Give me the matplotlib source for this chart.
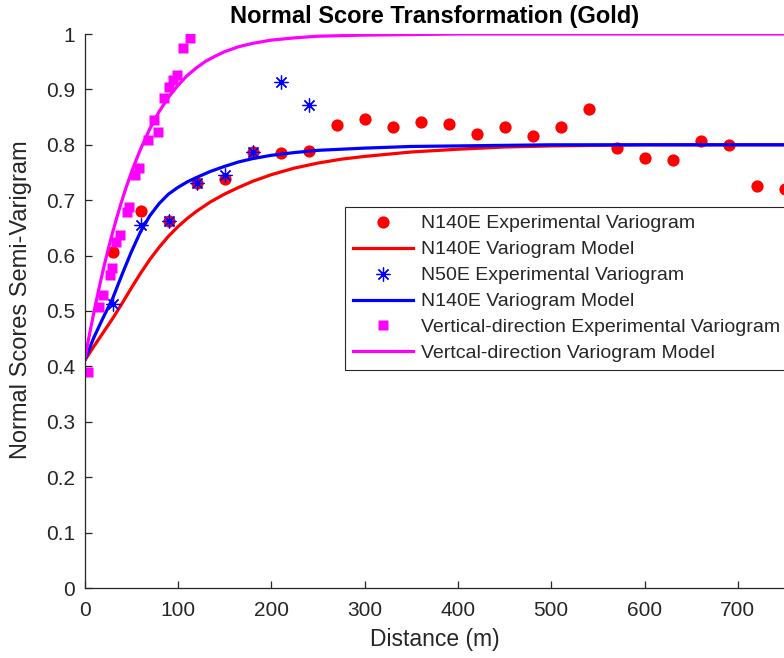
import matplotlib
matplotlib.use("Agg")
import matplotlib.pyplot as plt
from matplotlib.lines import Line2D

plt.rcParams['font.family'] = ['Liberation Sans', 'DejaVu Sans']

# experimental variogram, N140E
n140_lag = [30, 60, 90, 120, 150, 180, 210, 240, 270, 300, 330, 360, 390,
            420, 450, 480, 510, 540, 570, 600, 630, 660, 690, 720, 750]
n140_gam = [0.607, 0.680, 0.663, 0.731, 0.738, 0.787, 0.786, 0.789, 0.835,
            0.847, 0.833, 0.842, 0.838, 0.820, 0.832, 0.816, 0.832, 0.865,
            0.795, 0.776, 0.773, 0.807, 0.799, 0.726, 0.720]

# experimental variogram, N50E
n50_lag = [30, 60, 90, 120, 150, 180, 210, 240]
n50_gam = [0.512, 0.655, 0.662, 0.731, 0.745, 0.787, 0.914, 0.871]

# experimental variogram, vertical
vert_lag = [4, 16, 20, 27, 29, 34, 38, 45, 48, 54, 58, 68, 74.5, 79,
            85, 90, 95, 99.5, 105.6, 112.7]
vert_gam = [0.390, 0.508, 0.529, 0.565, 0.577, 0.625, 0.637, 0.679, 0.688,
            0.745, 0.758, 0.808, 0.845, 0.824, 0.884, 0.905, 0.917, 0.926,
            0.974, 0.992]

# fitted models
red_h = [0, 10, 20, 30, 40, 50, 60, 70, 80, 90, 100, 110, 120, 135, 150,
         165, 180, 200, 225, 250, 275, 300, 350, 400, 450, 500, 550, 600, 800]
red_m = [0.41, 0.436, 0.461, 0.486, 0.513, 0.541, 0.568, 0.593, 0.615, 0.635,
         0.652, 0.667, 0.68, 0.697, 0.711, 0.723, 0.734, 0.746, 0.758, 0.767,
         0.774, 0.779, 0.787, 0.792, 0.796, 0.798, 0.799, 0.80, 0.80]

blue_h = [0, 10, 20, 30, 40, 50, 60, 70, 80, 90, 100, 110, 120, 135, 150,
          165, 180, 200, 225, 250, 300, 350, 400, 500, 800]
blue_m = [0.41, 0.452, 0.488, 0.522, 0.565, 0.606, 0.643, 0.672, 0.694,
          0.711, 0.723, 0.733, 0.741, 0.752, 0.761, 0.769, 0.775, 0.781,
          0.786, 0.790, 0.794, 0.797, 0.798, 0.80, 0.80]

mag_h = [0, 5, 10, 15, 20, 25, 30, 35, 40, 45, 50, 55, 60, 70, 80, 90, 100,
         110, 120, 130, 140, 150, 165, 180, 200, 225, 250, 300, 350, 400, 800]
mag_m = [0.41, 0.455, 0.497, 0.537, 0.574, 0.609, 0.641, 0.671, 0.699,
         0.725, 0.749, 0.771, 0.792, 0.829, 0.860, 0.886, 0.907, 0.925,
         0.939, 0.951, 0.960, 0.968, 0.977, 0.983, 0.989, 0.993, 0.996,
         0.998, 0.999, 1.0, 1.0]

labels = ['N140E Experimental Variogram', 'N140E Variogram Model',
          'N50E Experimental Variogram', 'N140E Variogram Model',
          'Vertical-direction Experimental Variogram',
          'Vertcal-direction Variogram Model']

ink = '#262626'
asterisk = (8, 2, 0)

fig = plt.figure(figsize=(7.84, 6.58), dpi=100)
ax = fig.add_axes([84.5 / 784, 1 - 588 / 658, 700 / 784, 554 / 658])

ax.plot(n140_lag, n140_gam, 'o', color='red', ms=8.8, mec='none')
ax.plot(red_h, red_m, '-', color='red', lw=2.3)
ax.plot(n50_lag, n50_gam, ls='none', marker=asterisk, color='#0000ff',
        ms=10, mew=0.9)
ax.plot(blue_h, blue_m, '-', color='#0000ff', lw=2.3)
ax.plot(vert_lag, vert_gam, 's', color='#ff00ff', ms=7.5, mec='none')
ax.plot(mag_h, mag_m, '-', color='#ff00ff', lw=2.3)

ax.set_xlim(0, 750)
ax.set_ylim(0, 1)
ax.set_xticks(range(0, 800, 100))
ax.set_yticks([i / 10 for i in range(11)])
ax.set_yticklabels(['0', '0.1', '0.2', '0.3', '0.4', '0.5', '0.6', '0.7',
                    '0.8', '0.9', '1'])
for s in ['top', 'right']:
    ax.spines[s].set_visible(False)
for s in ['left', 'bottom']:
    ax.spines[s].set_color(ink)
    ax.spines[s].set_linewidth(0.9)
ax.tick_params(axis='both', direction='in', length=5, width=0.9,
               colors=ink, labelsize=15)
ax.tick_params(axis='x', pad=9)
ax.tick_params(axis='y', pad=7)

ax.set_xlabel('Distance (m)', fontsize=16.5, color=ink)
ax.set_ylabel('Normal Scores Semi-Varigram', fontsize=17, color=ink)
ax.xaxis.set_label_coords(0.5, -0.072)
ax.yaxis.set_label_coords(-0.075, 0.52)
ax.set_title('Normal Score Transformation (Gold)', fontsize=17,
             fontweight='bold', color='black', pad=8)

handles = [
    Line2D([], [], ls='none', marker='o', color='red', ms=8.8, mec='none'),
    Line2D([], [], color='red', lw=2.3),
    Line2D([], [], ls='none', marker=asterisk, color='#0000ff', ms=10, mew=0.9),
    Line2D([], [], color='#0000ff', lw=2.3),
    Line2D([], [], ls='none', marker='s', color='#ff00ff', ms=7.5, mec='none'),
    Line2D([], [], color='#ff00ff', lw=2.3),
]
leg = ax.legend(handles, labels, loc='upper left',
                bbox_to_anchor=(345 / 784, 1 - 207 / 658),
                bbox_transform=fig.transFigure, fontsize=14.0,
                frameon=True, fancybox=False, framealpha=1,
                edgecolor=ink, handlelength=3.1, handletextpad=0.4,
                labelspacing=0.43, borderpad=0.4, borderaxespad=0)
leg.get_frame().set_linewidth(0.8)
for t in leg.get_texts():
    t.set_color(ink)

fig.savefig('out.png', dpi=100, facecolor='white')
